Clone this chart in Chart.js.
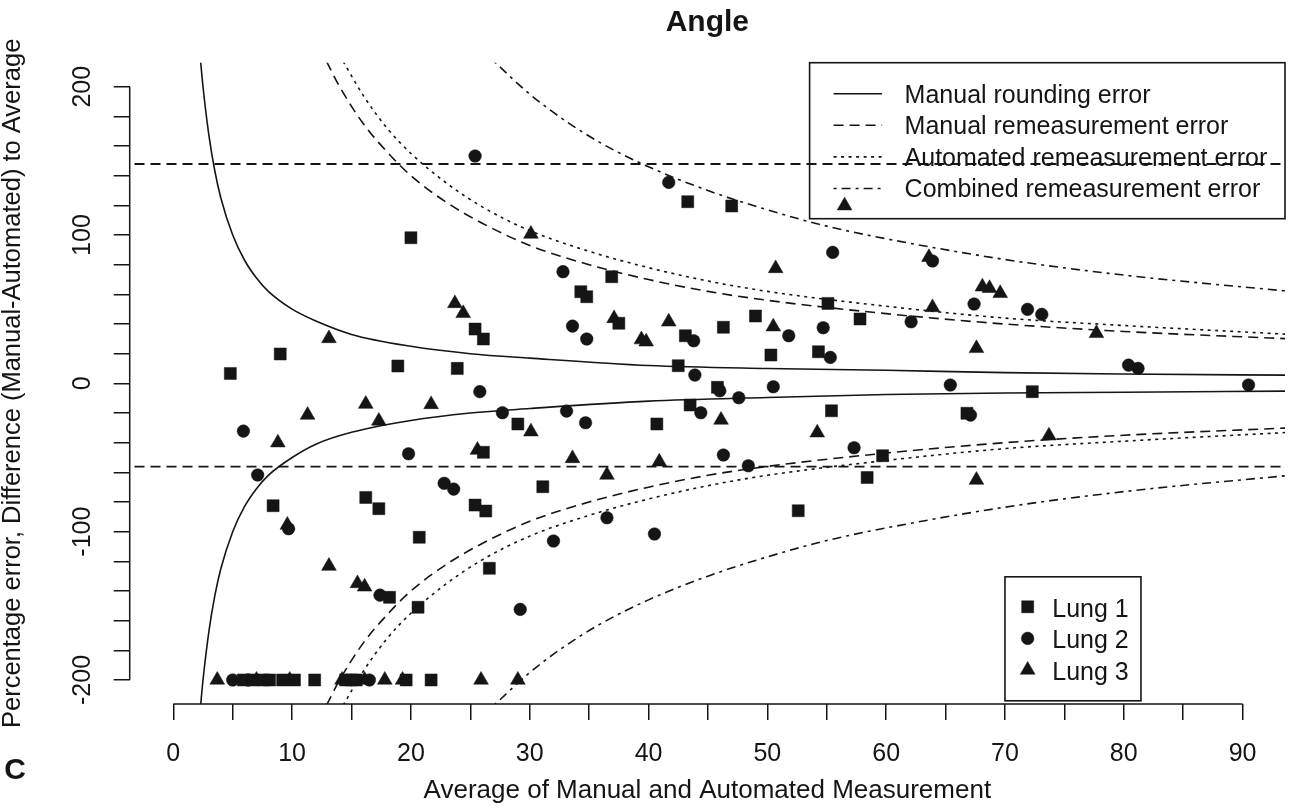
<!DOCTYPE html>
<html>
<head>
<meta charset="utf-8">
<script src="https://cdn.jsdelivr.net/npm/chart.js@4.4.1/dist/chart.umd.min.js"></script>
<style>
  html, body { margin: 0; padding: 0; background: #fff; }
</style>
</head>
<body>
<canvas id="grafico" width="1294" height="811"></canvas>
<script>
// limites do grafico (R estende 4% alem dos dados)
const X_MIN = -3.67;
const X_MAX = 93.57;
const Y_MIN = -216.2;
const Y_MAX = 216.2;

// curvas de erro
const roundX = [2.3, 2.5, 3, 3.5, 4, 5, 6, 7, 8, 10, 12, 15, 20, 25, 30, 40, 50, 60, 70, 80, 94];
const roundUpper = [217, 200, 167, 143, 125, 100, 83, 71, 62, 50, 42, 33, 25, 20, 17, 12, 10, 8.8, 7.2, 6.3, 5.5];
const roundLower = [-217, -200, -167, -143, -125, -100, -83, -71, -62, -50, -41, -33, -25, -20, -17, -12, -9.5, -7.5, -6.5, -6, -5.2];

const manualX = [12.9, 14, 16, 18, 20, 23, 26, 30, 35, 40, 45, 50, 60, 70, 80, 94];
const manualUpper = [217, 200, 175, 156, 140, 122, 108, 93, 80, 70, 62, 56, 47, 40, 35, 30];
const manualLower = [-217, -200, -175, -156, -140, -122, -108, -93, -80, -70, -62, -56, -47, -40, -35, -30];

const autoX = [14.3, 16, 18, 20, 23, 26, 30, 35, 40, 45, 50, 60, 70, 80, 94];
const autoUpper = [217, 194, 172, 155, 135, 119, 103, 89, 78, 69, 62, 52, 44, 39, 33];
const autoLower = [-217, -194, -172, -155, -135, -119, -103, -89, -78, -69, -62, -52, -44, -39, -33];

const combX = [27, 30, 33, 36, 40, 45, 50, 55, 60, 70, 80, 94];
const combUpper = [217, 195, 177, 162, 146, 130, 117, 106, 97.5, 83.5, 73, 62];
const combLower = [-217, -195, -177, -162, -146, -130, -117, -106, -97.5, -83.5, -73, -62];

// linhas horizontais (limites de concordancia)
const limites = [147.9, -56.2];

// pontos [media, diferenca %]
const lung1 = [
  [20.0, 98.2], [43.3, 122.5], [47.0, 119.6], [36.9, 71.9], [25.4, 36.6], [26.1, 29.9], [9.0, 19.8],
  [4.8, 6.7], [18.9, 11.7], [23.9, 10.1], [26.1, -46.5], [29.0, -27.4], [34.3, 61.8], [34.8, 58.4],
  [55.1, 53.9], [57.8, 43.4], [49.0, 45.4], [37.5, 40.5], [43.1, 32.1], [46.3, 37.8], [50.3, 19.1],
  [54.3, 21.3], [42.5, 11.9], [45.8, -2.7], [43.5, -14.6], [40.7, -27.4], [55.4, -18.5], [31.1, -69.7],
  [59.7, -48.8], [58.4, -63.5], [72.3, -5.6], [66.8, -20.2], [8.4, -82.5], [16.2, -76.9], [17.3, -84.5],
  [25.4, -82.1], [26.3, -86.1], [20.7, -103.8], [18.2, -144.3], [20.6, -151], [26.6, -124.7], [52.6, -85.9],
  [5.9, -200], [6.7, -200], [7.6, -200], [8.1, -200], [9.2, -200], [10.2, -200], [11.9, -200],
  [14.5, -200], [15.0, -200], [15.4, -200], [19.6, -200], [21.7, -200]
];
const lung2 = [
  [25.4, 153.3], [41.7, 135.5], [32.8, 75.3], [55.5, 88.3], [63.9, 82.5], [25.8, -5.6], [27.7, -19.8],
  [5.9, -32.2], [19.8, -47.5], [7.1, -61.8], [22.8, -67.4], [23.6, -71.3], [33.6, 38.6], [34.8, 29.9],
  [43.8, 28.7], [51.8, 32.1], [54.7, 37.5], [55.3, 17.5], [43.9, 5.6], [46.0, -5.0], [50.5, -2.3],
  [47.6, -9.7], [44.4, -19.8], [33.1, -18.7], [34.7, -26.6], [46.3, -48.3], [48.4, -55.6], [57.3, -43.4],
  [67.4, 53.5], [62.1, 41.5], [71.9, 49.9], [73.1, 46.5], [80.4, 12.3], [81.2, 10.1], [65.4, -1.1],
  [90.5, -1.1], [67.1, -21.4], [9.7, -98], [17.4, -142.8], [32.0, -106.3], [36.5, -90.6], [40.5, -101.6],
  [29.2, -152.4], [5.0, -200], [6.3, -200], [16.5, -200]
];
const lung3 = [
  [56.5, 119.8], [30.1, 100.7], [50.7, 77.5], [63.6, 85], [23.7, 53.9], [24.4, 47.2], [13.1, 30.3],
  [16.2, -14.0], [21.7, -14.2], [11.3, -21.4], [17.3, -25.4], [8.8, -40], [25.6, -45], [37.1, 43.8],
  [41.7, 41.5], [39.4, 29.5], [39.8, 28], [50.5, 38.2], [30.1, -32.6], [46.1, -24.7], [54.2, -33.3],
  [33.6, -50.6], [40.9, -52.9], [36.5, -61.8], [68.1, 65.1], [68.7, 64.1], [69.6, 60.7], [63.9, 51.2],
  [77.7, 33.7], [67.6, 23.6], [73.7, -35.3], [67.6, -65.2], [9.6, -95.5], [13.1, -123.2], [15.5, -134.9],
  [16.1, -137.2], [3.7, -200], [7.0, -200], [9.8, -200], [14.2, -200], [16.1, -200], [17.8, -200],
  [19.3, -200], [25.9, -200], [29.0, -200]
];

const nomesCurvas = ['Manual rounding error', 'Manual remeasurement error', 'Automated remeasurement error', 'Combined remeasurement error'];
const nomesPulmao = ['Lung 1', 'Lung 2', 'Lung 3'];

const FONTE = "'Liberation Sans', Arial, sans-serif";
const COR = '#151515';
const tracos = [[], [10, 6], [3, 4.5], [3, 5, 9, 5]];
const simbolos = [
  { pointStyle: 'rect', radius: 8.5 },
  { pointStyle: 'circle', radius: 6.3 },
  { pointStyle: 'triangle', radius: 8.5 }
];

Chart.defaults.font.family = FONTE;

function pares(xs, ys) {
  return xs.map((x, i) => ({ x: x, y: ys[i] }));
}

function curva(xs, ys, dash) {
  return {
    type: 'line',
    data: pares(xs, ys),
    borderColor: COR,
    borderWidth: 1.6,
    borderDash: dash,
    pointRadius: 0,
    fill: false,
    cubicInterpolationMode: 'monotone',
    showLine: true
  };
}

function pontos(lista, simbolo) {
  return {
    type: 'scatter',
    data: lista.map(p => ({ x: p[0], y: p[1] })),
    pointStyle: simbolo.pointStyle,
    pointRadius: simbolo.radius,
    backgroundColor: COR,
    borderColor: COR,
    borderWidth: 0.5
  };
}

const datasets = [
  pontos(lung1, simbolos[0]),
  pontos(lung2, simbolos[1]),
  pontos(lung3, simbolos[2]),
  curva(roundX, roundUpper, tracos[0]),
  curva(roundX, roundLower, tracos[0]),
  curva(manualX, manualUpper, tracos[1]),
  curva(manualX, manualLower, tracos[1]),
  curva(autoX, autoUpper, tracos[2]),
  curva(autoX, autoLower, tracos[2]),
  curva(combX, combUpper, tracos[3]),
  curva(combX, combLower, tracos[3])
];
limites.forEach(v => {
  const d = curva([-10, 100], [v, v], [10, 6]);
  d.borderWidth = 1.8;
  datasets.push(d);
});

function desenhaSimbolo(ctx, simbolo, x, y) {
  ctx.fillStyle = COR;
  ctx.strokeStyle = COR;
  ctx.lineWidth = 0.5;
  Chart.helpers.drawPoint(ctx, { pointStyle: simbolo.pointStyle, radius: simbolo.radius, rotation: 0, borderWidth: 0.5 }, x, y);
}

const extras = {
  id: 'extras',
  afterDatasetsDraw(chart) {
    const { ctx, chartArea, scales } = chart;
    ctx.save();
    ctx.strokeStyle = COR;
    ctx.fillStyle = COR;
    ctx.font = '25px ' + FONTE;
    ctx.textBaseline = 'middle';
    ctx.textAlign = 'left';

    // legenda das curvas
    const right = chartArea.right;
    const left = right - 475.4;
    const top = chartArea.top;
    ctx.lineWidth = 1.6;
    ctx.setLineDash([]);
    ctx.strokeRect(left, top, right - left, 156);
    nomesCurvas.forEach((nome, i) => {
      const yy = top + 31 + i * 31.6;
      ctx.setLineDash(tracos[i]);
      ctx.beginPath();
      ctx.moveTo(left + 24, yy);
      ctx.lineTo(left + 72.5, yy);
      ctx.stroke();
      ctx.setLineDash([]);
      ctx.fillText(nome, left + 95, yy + 2);
    });

    // legenda dos pulmoes
    const bLeft = scales.x.getPixelForValue(70);
    const bBottom = chartArea.bottom - 3.2;
    const bTop = bBottom - 124;
    ctx.lineWidth = 1.6;
    ctx.strokeRect(bLeft, bTop, 136, 124);
    nomesPulmao.forEach((nome, i) => {
      const yy = bTop + 30 + i * 31.6;
      desenhaSimbolo(ctx, simbolos[i], bLeft + 22.7, yy);
      ctx.fillStyle = COR;
      ctx.fillText(nome, bLeft + 47.3, yy + 3);
    });
    ctx.restore();
  },
  afterDraw(chart) {
    const { ctx, chartArea, scales: { x, y } } = chart;
    ctx.save();
    ctx.strokeStyle = COR;
    ctx.lineWidth = 1.5;
    ctx.beginPath();
    ctx.moveTo(x.getPixelForValue(0), chartArea.bottom);
    ctx.lineTo(x.getPixelForValue(90), chartArea.bottom);
    ctx.moveTo(chartArea.left, y.getPixelForValue(-200));
    ctx.lineTo(chartArea.left, y.getPixelForValue(200));
    ctx.stroke();

    ctx.fillStyle = COR;
    ctx.font = 'bold 30px ' + FONTE;
    ctx.textAlign = 'center';
    ctx.textBaseline = 'middle';
    ctx.fillText('C', 15, 771);
    ctx.restore();
  }
};

const grafico = new Chart(document.getElementById('grafico'), {
  type: 'scatter',
  data: { datasets: datasets },
  options: {
    responsive: false,
    devicePixelRatio: 1,
    animation: false,
    layout: { padding: { left: 0, right: 3.3, top: 0, bottom: 0 } },
    plugins: {
      legend: { display: false },
      tooltip: { enabled: false },
      title: {
        display: true,
        text: 'Angle',
        fullSize: false,
        color: COR,
        font: { size: 30, weight: 'bold' },
        padding: { top: 4.5, bottom: 22.2 }
      }
    },
    scales: {
      x: {
        type: 'linear',
        min: X_MIN,
        max: X_MAX,
        afterFit: (s) => { s.height = 107; },
        border: { display: false },
        grid: { drawOnChartArea: false, drawTicks: true, tickLength: 16, color: COR, lineWidth: 1.5 },
        ticks: {
          stepSize: 5,
          includeBounds: false,
          autoSkip: false,
          maxRotation: 0,
          minRotation: 0,
          padding: 19,
          color: COR,
          font: { size: 25 },
          callback: (v) => (v % 10 === 0 ? String(v) : '')
        },
        title: {
          display: true,
          text: 'Average of Manual and Automated Measurement',
          color: COR,
          font: { size: 26 },
          padding: { top: 0, bottom: 5 }
        }
      },
      y: {
        type: 'linear',
        min: Y_MIN,
        max: Y_MAX,
        afterFit: (s) => { s.width = 129.7; },
        border: { display: false },
        grid: { drawOnChartArea: false, drawTicks: true, tickLength: 16, color: COR, lineWidth: 1.5 },
        ticks: {
          stepSize: 20,
          includeBounds: false,
          autoSkip: false,
          minRotation: 90,
          maxRotation: 90,
          crossAlign: 'center',
          padding: 5.2,
          color: COR,
          font: { size: 25 },
          callback: (v) => (v % 100 === 0 ? String(v) : '')
        },
        title: {
          display: true,
          text: 'Percentage error, Difference (Manual-Automated) to Average',
          color: COR,
          font: { size: 25.5, lineHeight: 1 },
          padding: { top: 0, bottom: 0 }
        }
      }
    }
  },
  plugins: [extras]
});
</script>
</body>
</html>
